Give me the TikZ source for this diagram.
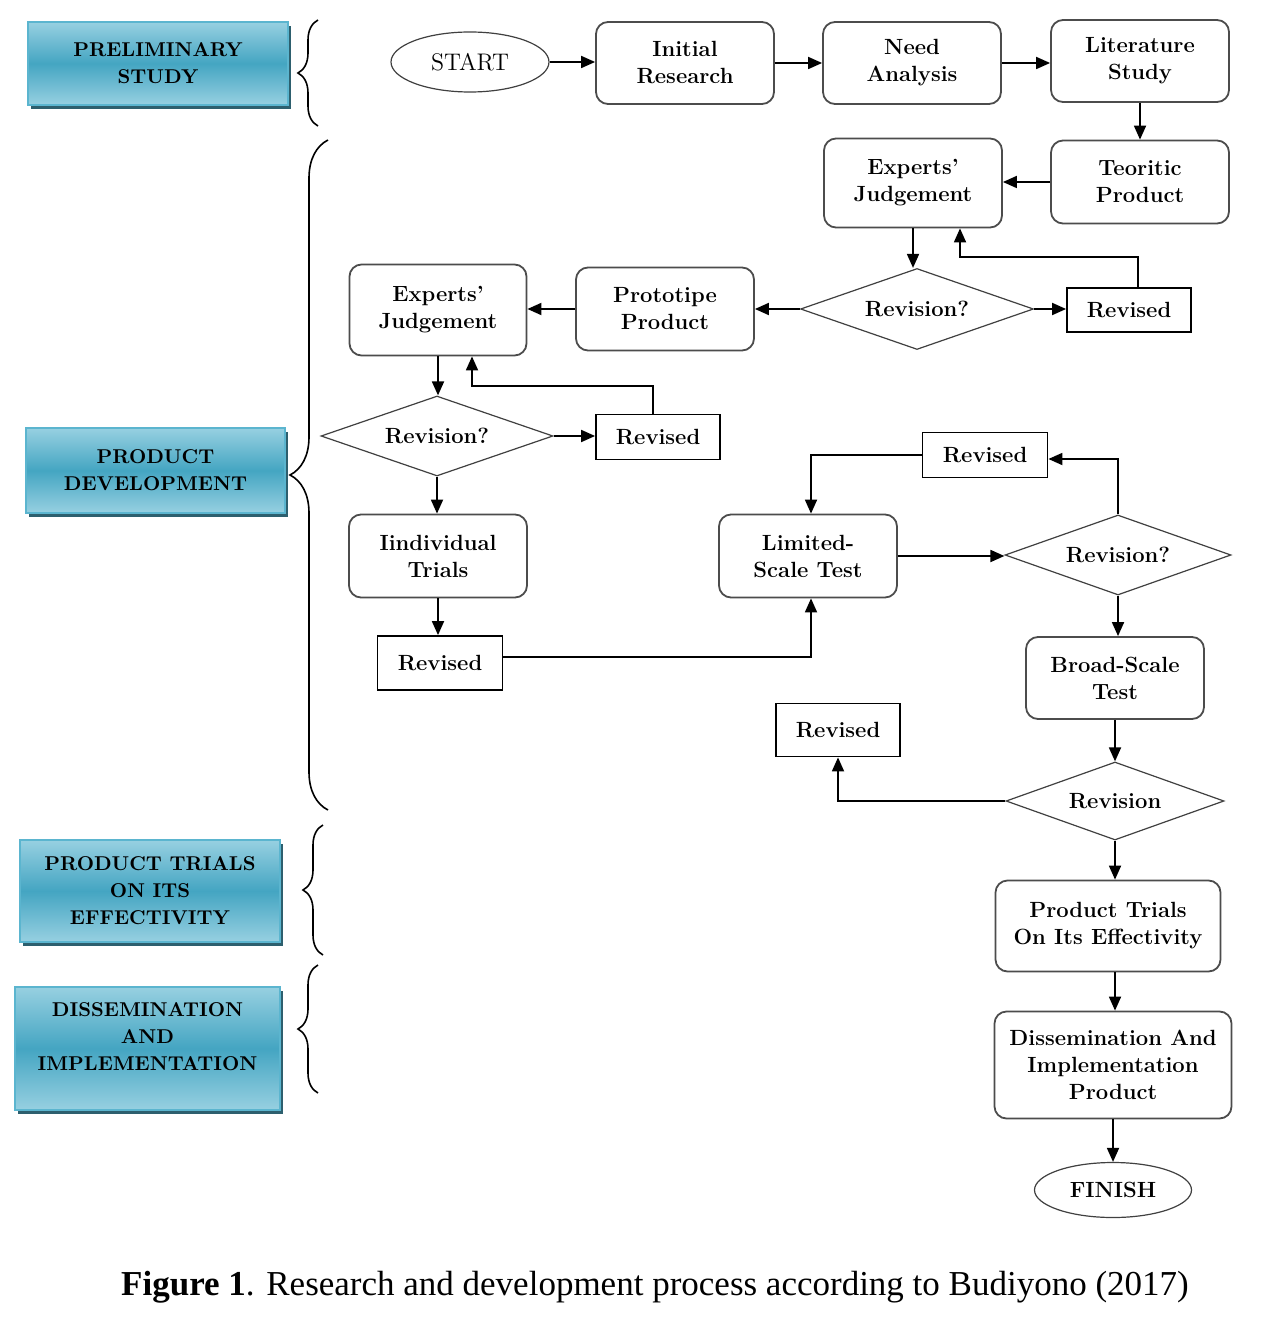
\documentclass[tikz,border=0pt]{standalone}
\usepackage{fontspec}
\newfontfamily\capfont{Liberation Serif}
\usetikzlibrary{shapes.geometric,arrows.meta,decorations.pathreplacing,shadows}
\definecolor{phaselight}{HTML}{97D0E1}
\definecolor{phasedark}{HTML}{44A5C2}
\definecolor{phaseborder}{HTML}{5BB5CF}
\definecolor{phaseshadow}{HTML}{2D5F6E}
\begin{document}
\begin{tikzpicture}[x=0.5pt,y=-0.5pt,
  every node/.style={font=\bfseries\fontsize{11}{13.5}\selectfont, align=center},
  rbox/.style={draw=black!70, line width=0.9pt, rounded corners=6pt, inner sep=0pt},
  rev/.style={draw=black, line width=0.9pt, inner sep=0pt},
  dia/.style={diamond, draw=black!75, line width=0.6pt, inner sep=0pt, aspect=2.9},
  ell/.style={ellipse, draw=black!75, line width=0.6pt, inner sep=0pt},
  phase/.style={draw=phaseborder, line width=0.6pt, top color=phaselight, bottom color=phaselight, middle color=phasedark, inner sep=0pt,
    font=\bfseries\fontsize{10}{13.5}\selectfont,
    drop shadow={shadow xshift=1.5pt, shadow yshift=-2pt, fill=phaseshadow, opacity=1}},
  arr/.style={draw=black, line width=0.9pt, -{Triangle[length=7pt,width=6pt]}},
  br/.style={draw=black, line width=0.8pt, decorate, decoration={brace, amplitude=#1}},
]
\fill[white] (0,0) rectangle (1268,1326);
\useasboundingbox (0,0) rectangle (1268,1326);

% phase boxes
\node[phase, minimum width=130pt, minimum height=41.5pt] (ph1) at (158,63.5) {PRELIMINARY\\STUDY};
\node[phase, minimum width=129.5pt, minimum height=42.5pt] (ph2) at (155.5,470.5) {PRODUCT\\DEVELOPMENT};
\node[phase, minimum width=130pt, minimum height=51pt] (ph3) at (150,891) {PRODUCT TRIALS\\ON ITS\\EFFECTIVITY};
\node[phase, minimum width=132.5pt, minimum height=61.5pt] (ph4) at (147.5,1048.5) {};
\node[font=\bfseries\fontsize{10}{13.5}\selectfont] (ph4t) at (147.5,1037) {DISSEMINATION\\AND\\IMPLEMENTATION};

% braces
\draw[br=10pt] (318,126) -- (318,20);
\draw[br=19pt] (328,810) -- (328,140);
\draw[br=10pt] (323,955) -- (323,825);
\draw[br=10pt] (318,1093) -- (318,965);

% flow nodes
\node[ell, minimum width=79pt, minimum height=30pt, font=\fontsize{12}{14}\selectfont] (start) at (470,62) {START};
\node[rbox, minimum width=89pt, minimum height=41pt] (ir) at (685,63) {Initial\\Research};
\node[rbox, minimum width=89pt, minimum height=41pt] (na) at (912,63) {Need\\Analysis};
\node[rbox, minimum width=89pt, minimum height=41pt] (ls) at (1140,61) {Literature\\Study};
\node[rbox, minimum width=89pt, minimum height=41.5pt] (tp) at (1140,182) {Teoritic\\Product};
\node[rbox, minimum width=89pt, minimum height=44.5pt] (ej1) at (913,183) {Experts’\\Judgement};
\node[dia, minimum width=116.5pt, minimum height=40.5pt] (d1) at (917,309) {Revision?};
\node[rev, minimum width=62pt, minimum height=22pt] (rv1) at (1129,310) {Revised};
\node[rbox, minimum width=89pt, minimum height=41.5pt] (pp) at (665,309) {Prototipe\\Product};
\node[rbox, minimum width=88.5pt, minimum height=45.5pt] (ej2) at (438,310) {Experts’\\Judgement};
\node[dia, minimum width=116pt, minimum height=40pt] (d2) at (437,436) {Revision?};
\node[rev, minimum width=62pt, minimum height=22.5pt] (rv2) at (658,437) {Revised};
\node[rbox, minimum width=89pt, minimum height=41.5pt] (it) at (438,556) {Iindividual\\Trials};
\node[rev, minimum width=62.5pt, minimum height=27pt] (rv3) at (440,663) {Revised};
\node[rbox, minimum width=89pt, minimum height=41.5pt] (lt) at (808,556) {Limited-\\Scale Test};
\node[rev, minimum width=62.5pt, minimum height=22.5pt] (rv4) at (985,455) {Revised};
\node[dia, minimum width=113pt, minimum height=40pt] (d3) at (1118,555) {Revision?};
\node[rbox, minimum width=89pt, minimum height=41pt] (bt) at (1115,678) {Broad-Scale\\Test};
\node[rev, minimum width=62pt, minimum height=26.5pt] (rv5) at (838,730) {Revised};
\node[dia, minimum width=109pt, minimum height=39pt] (d4) at (1115,801) {Revision};
\node[rbox, minimum width=112.5pt, minimum height=45.5pt] (pt) at (1108,926) {Product Trials\\On Its Effectivity};
\node[rbox, minimum width=118.5pt, minimum height=53.5pt] (dp) at (1113,1065) {Dissemination And\\Implementation\\Product};
\node[ell, minimum width=78.5pt, minimum height=27.5pt] (fin) at (1113,1190) {FINISH};

% connectors
\draw[arr] (start.east) -- (start.east -| ir.west);
\draw[arr] (ir.east) -- (ir.east -| na.west);
\draw[arr] (na.east) -- (na.east -| ls.west);
\draw[arr] (ls.south) -- (ls.south |- tp.north);
\draw[arr] (tp.west) -- (tp.west -| ej1.east);
\draw[arr] (ej1.south) -- (ej1.south |- d1.north);
\draw[arr] (d1.east) -- (d1.east -| rv1.west);
\draw[arr] ([xshift=4.5pt]rv1.north) -- ++(0,-30) -| ([xshift=23.5pt]ej1.south);
\draw[arr] (d1.west) -- (d1.west -| pp.east);
\draw[arr] (pp.west) -- (pp.west -| ej2.east);
\draw[arr] (ej2.south) -- (ej2.south |- d2.north);
\draw[arr] (d2.east) -- (d2.east -| rv2.west);
\draw[arr] ([xshift=-2.5pt]rv2.north) -- ++(0,-28) -| ([xshift=17pt]ej2.south);
\draw[arr] (d2.south) -- (d2.south |- it.north);
\draw[arr] (it.south) -- (it.south |- rv3.north);
\draw[arr] ([yshift=3pt]rv3.east) -| ([xshift=1.5pt]lt.south);
\draw[arr] (lt.east) -- (lt.east -| d3.west);
\draw[arr] (d3.north) |- ([yshift=-2pt]rv4.east);
\draw[arr] (rv4.west) -| ([xshift=1.5pt]lt.north);
\draw[arr] (d3.south) -- (d3.south |- bt.north);
\draw[arr] (bt.south) -- (bt.south |- d4.north);
\draw[arr] (d4.west) -| (rv5.south);
\draw[arr] (d4.south) -- (d4.south |- pt.north);
\draw[arr] (d4.south |- pt.south) -- (d4.south |- dp.north);
\draw[arr] (dp.south) -- (dp.south |- fin.north);

% caption
\node[font=\capfont\fontsize{17.5}{20}\selectfont] (cap) at (655,1287) {\textbf{Figure 1}. Research and development process according to Budiyono (2017)};
\end{tikzpicture}
\end{document}
